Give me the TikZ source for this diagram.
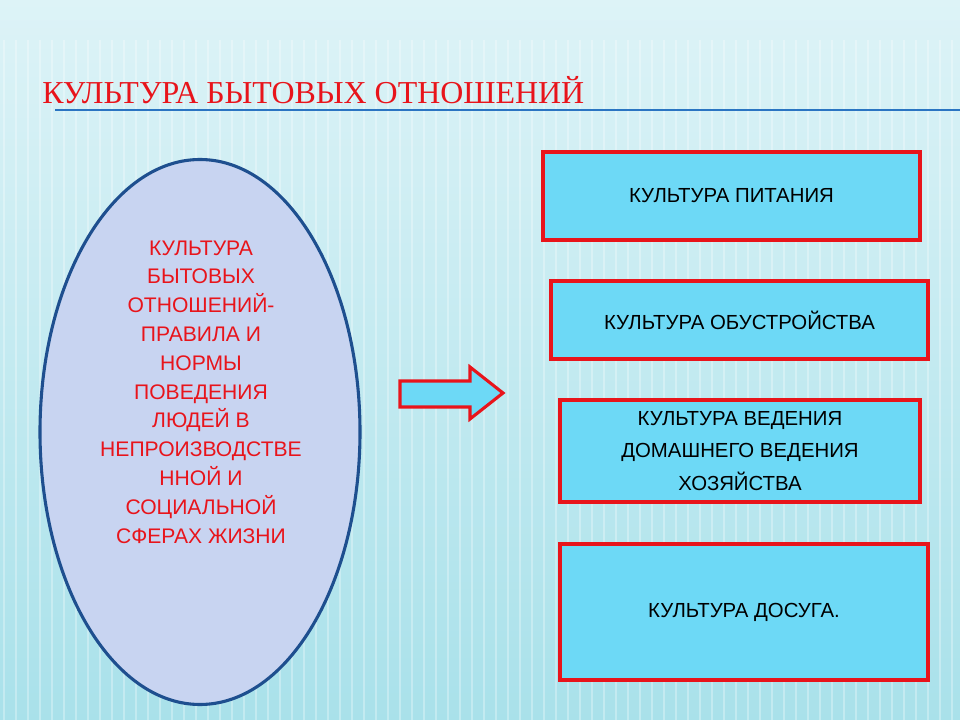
\documentclass[tikz,border=0pt]{standalone}
\usepackage{fontspec}
\setmainfont{Liberation Serif}
\newfontfamily\boxfont{Liberation Sans}
\usetikzlibrary{shapes.geometric}
\definecolor{bgtop}{HTML}{DDF3F7}
\definecolor{bgbot}{HTML}{A9E1EA}
\definecolor{redline}{HTML}{E8141B}
\definecolor{boxfill}{HTML}{6DD9F6}
\definecolor{ovalfill}{HTML}{C8D4F1}
\definecolor{ovalline}{HTML}{1E4F8F}
\definecolor{rulecol}{HTML}{2A74C2}
\def\pu{0.025cm}
\tikzset{
  stripe/.style={draw=white, opacity=0.3, line width=1.8pt},
  box/.style={draw=redline, fill=boxfill, line width=2.2pt, align=center,
    font=\boxfont\fontsize{14.5}{23}\selectfont},
  oval/.style={ellipse, draw=ovalline, fill=ovalfill, line width=2.2pt, inner sep=0pt},
  ovaltxt/.style={text=redline, align=center, font=\boxfont\fontsize{15}{20.5}\selectfont},
  heading/.style={text=redline, anchor=base west, inner sep=0pt, font=\fontsize{22.7}{26}\selectfont},
  blockarrow/.style={draw=redline, fill=boxfill, line width=2.2pt, line join=miter},
}

\begin{document}
\begin{tikzpicture}[x=\pu, y=-\pu]
  \useasboundingbox (0,0) rectangle (960,720);
  \shade[top color=bgtop, bottom color=bgbot] (0,0) rectangle (960,720);
  \foreach \x in {4,16,...,960}
    \draw[stripe] (\x,40) -- (\x,720);

  % title
  \node[heading] (title) at (42,104) {КУЛЬТУРА БЫТОВЫХ ОТНОШЕНИЙ};
  \draw[rulecol, line width=1.5pt] (55,110) -- (960,110);

  % definition
  \node[oval, minimum width=320*\pu, minimum height=545*\pu] (def) at (200,432) {};
  \node[ovaltxt] (deftxt) at (201,392) {КУЛЬТУРА\\БЫТОВЫХ\\ОТНОШЕНИЙ-\\ПРАВИЛА И\\НОРМЫ\\ПОВЕДЕНИЯ\\ЛЮДЕЙ В\\НЕПРОИЗВОДСТВЕ\\ННОЙ И\\СОЦИАЛЬНОЙ\\СФЕРАХ ЖИЗНИ};

  \draw[blockarrow] (400,381) -- (470,381) -- (470,367) -- (503,393)
    -- (470,419) -- (470,407) -- (400,407) -- cycle;

  % kinds
  \node[box, minimum width=377*\pu, minimum height=88*\pu] (food) at (731.5,196) {КУЛЬТУРА ПИТАНИЯ};
  \node[box, minimum width=377*\pu, minimum height=78*\pu] (home) at (739.5,320) {КУЛЬТУРА ОБУСТРОЙСТВА};
  \node[box, minimum width=360*\pu, minimum height=102*\pu] (house) at (740,451) {КУЛЬТУРА ВЕДЕНИЯ\\ДОМАШНЕГО ВЕДЕНИЯ\\ХОЗЯЙСТВА};
  \node[box, minimum width=368*\pu, minimum height=136*\pu] (leisure) at (744,612) {КУЛЬТУРА ДОСУГА.};
\end{tikzpicture}
\end{document}
